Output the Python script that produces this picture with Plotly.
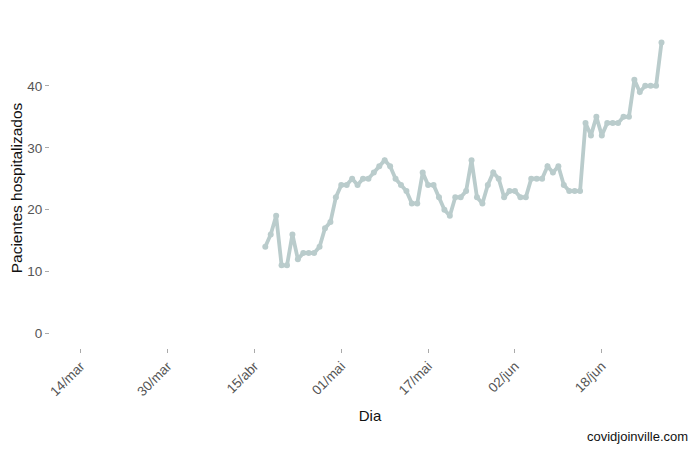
import pandas as pd
import plotly.graph_objects as go

# daily hospitalised patients, 17/abr .. 29/jun
start_day = "2020-04-17"
patients = [14, 16, 19, 11, 11, 16, 12, 13, 13, 13, 14, 17, 18, 22, 24, 24, 25, 24, 25,
            25, 26, 27, 28, 27, 25, 24, 23, 21, 21, 26, 24, 24, 22, 20, 19, 22, 22,
            23, 28, 22, 21, 24, 26, 25, 22, 23, 23, 22, 22, 25, 25, 25, 27, 26, 27, 24, 23, 23, 23,
            34, 32, 35, 32, 34, 34, 34, 35, 35, 41, 39, 40, 40, 40, 47]
days = pd.date_range(start_day, periods=len(patients), freq="D")

tick_dates = ["2020-03-14", "2020-03-30", "2020-04-15", "2020-05-01",
              "2020-05-17", "2020-06-02", "2020-06-18"]
tick_labels = ["14/mar", "30/mar", "15/abr", "01/mai", "17/mai", "02/jun", "18/jun"]
y_ticks = [0, 10, 20, 30, 40]

line_color = "#bacccc"
font = "Liberation Sans"

fig = go.Figure()
fig.add_trace(go.Scatter(
    x=days, y=patients, mode="lines+markers",
    line=dict(color=line_color, width=3.8),
    marker=dict(color=line_color, size=6),
    hoverinfo="x+y", showlegend=False,
))

fig.update_layout(
    width=700, height=450,
    margin=dict(l=42, r=18, t=20, b=110),
    plot_bgcolor="white", paper_bgcolor="white",
    font=dict(family=font, size=13, color="#000000"),
    xaxis=dict(
        range=["2020-03-08 08:00", "2020-07-04 06:00"],
        tickvals=tick_dates, ticktext=tick_labels, tickangle=-45,
        ticks="outside", ticklen=4, tickcolor="#aaaaaa",
        tickfont=dict(size=13.5, color="#555555"),
        showgrid=False, zeroline=False, showline=False, automargin=False,
        title=dict(text="Dia", font=dict(size=15, color="#111111"), standoff=12),
    ),
    yaxis=dict(
        range=[-2.35, 49.35],
        tickvals=y_ticks,
        ticks="outside", ticklen=4, tickcolor="#aaaaaa",
        tickfont=dict(size=13.5, color="#555555"),
        showgrid=False, zeroline=False, showline=False, automargin=False,
        title=dict(text="Pacientes hospitalizados", font=dict(size=15.5, color="#111111"), standoff=14),
    ),
    annotations=[dict(
        text="covidjoinville.com", xref="paper", yref="paper",
        x=1.0, y=-0.275, xanchor="right", yanchor="middle", showarrow=False,
        font=dict(size=13, color="#111111"),
    )],
)

fig.write_html("out.html")
